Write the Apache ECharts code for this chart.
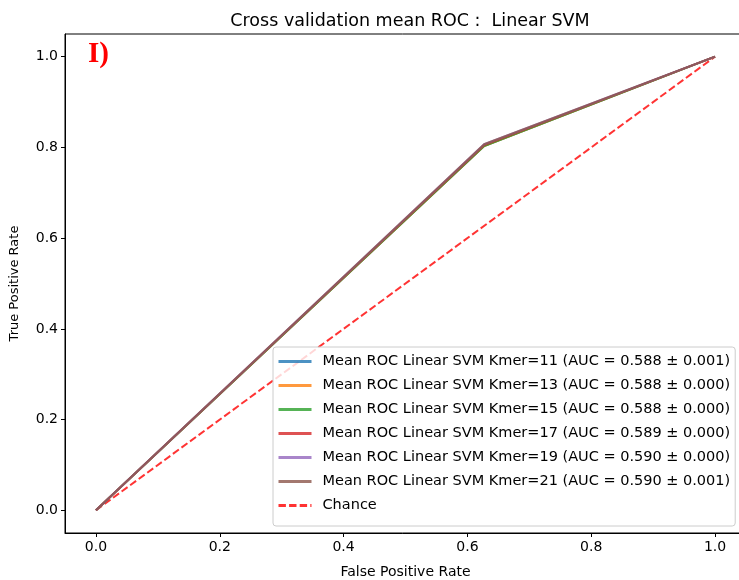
<!DOCTYPE html>
<html>
<head>
<meta charset="utf-8">
<script src="https://cdn.jsdelivr.net/npm/echarts@6/dist/echarts.min.js"></script>
<style>
  html, body {margin: 0; padding: 0; background: #fff;}
  #chart {width: 739px; height: 580px;}
</style>
</head>
<body>
<div id="chart"></div>
<script>
// ROC curve points [fpr, tpr]
var kmerNames = ['Mean ROC Linear SVM Kmer=11 (AUC = 0.588 \u00b1 0.001)',
                 'Mean ROC Linear SVM Kmer=13 (AUC = 0.588 \u00b1 0.000)',
                 'Mean ROC Linear SVM Kmer=15 (AUC = 0.588 \u00b1 0.000)',
                 'Mean ROC Linear SVM Kmer=17 (AUC = 0.589 \u00b1 0.000)',
                 'Mean ROC Linear SVM Kmer=19 (AUC = 0.590 \u00b1 0.000)',
                 'Mean ROC Linear SVM Kmer=21 (AUC = 0.590 \u00b1 0.001)'];
var roc11 = [[0, 0], [0.627, 0.803], [1, 1]];
var roc13 = [[0, 0], [0.627, 0.803], [1, 1]];
var roc15 = [[0, 0], [0.627, 0.803], [1, 1]];
var roc17 = [[0, 0], [0.627, 0.805], [1, 1]];
var roc19 = [[0, 0], [0.627, 0.807], [1, 1]];
var roc21 = [[0, 0], [0.627, 0.807], [1, 1]];
var chance = [[0, 0], [1, 1]];
var tickValues = [0, 0.2, 0.4, 0.6, 0.8, 1.0];

var colors = ['#1f77b4', '#ff7f0e', '#2ca02c', '#d62728', '#9467bd', '#8c564b'];
var rocData = [roc11, roc13, roc15, roc17, roc19, roc21];
var font = 'DejaVu Sans';

var series = [];
rocData.forEach(function (d, i) {
    series.push({
        name: kmerNames[i],
        type: 'line',
        data: d,
        symbol: 'none',
        silent: true,
        lineStyle: {color: colors[i], width: 2, opacity: 0.8},
        itemStyle: {color: colors[i]}
    });
});
series.push({
    name: 'Chance',
    type: 'line',
    data: chance,
    symbol: 'none',
    silent: true,
    lineStyle: {color: '#ff0000', width: 2, opacity: 0.8, type: [7.4, 3.2]},
    itemStyle: {color: '#ff0000'},
    z: 1
});

var myChart = echarts.init(document.getElementById('chart'));
var option = {
    animation: false,
    textStyle: {fontFamily: font},
    title: {
        text: 'Cross validation mean ROC :  Linear SVM',
        left: 405, top: 7, textAlign: 'center',
        textStyle: {fontFamily: font, fontSize: 17.5, fontWeight: 'normal', color: '#000'}
    },
    grid: {
        left: 65, top: 34, width: 681, height: 499,
        outerBoundsMode: 'none', containLabel: false,
        show: true, borderColor: '#000', borderWidth: 1
    },
    legend: {
        orient: 'vertical',
        left: 273, top: 347,
        itemWidth: 33, itemHeight: 14, itemGap: 9,
        padding: [7, 5, 13, 4],
        backgroundColor: 'rgba(255,255,255,0.8)',
        borderColor: '#cccccc', borderWidth: 1, borderRadius: 3,
        itemStyle: {opacity: 0},
        lineStyle: {width: 3},
        textStyle: {fontFamily: font, fontSize: 14.5, lineHeight: 14, color: '#000', padding: [0, 0, 0, 6]},
        data: kmerNames.concat(['Chance'])
    },
    xAxis: {
        type: 'value', min: -0.05, max: 1.05,
        name: 'False Positive Rate', nameLocation: 'middle', nameGap: 32,
        nameTextStyle: {fontFamily: font, fontSize: 14, color: '#000'},
        axisLine: {show: true, onZero: false, lineStyle: {color: '#000'}},
        axisTick: {show: true, inside: false, length: 4, customValues: tickValues, lineStyle: {color: '#000'}},
        axisLabel: {customValues: tickValues, fontSize: 14, color: '#000', margin: 7,
            formatter: function (v) { return v.toFixed(1); }},
        splitLine: {show: false}
    },
    yAxis: {
        type: 'value', min: -0.05, max: 1.05,
        name: 'True Positive Rate', nameLocation: 'middle', nameGap: 44, nameRotate: 90,
        nameTextStyle: {fontFamily: font, fontSize: 13, color: '#000'},
        axisLine: {show: true, onZero: false, lineStyle: {color: '#000'}},
        axisTick: {show: true, inside: false, length: 4, customValues: tickValues, lineStyle: {color: '#000'}},
        axisLabel: {customValues: tickValues, fontSize: 14, color: '#000', margin: 7,
            formatter: function (v) { return v.toFixed(1); }},
        splitLine: {show: false}
    },
    graphic: [{
        type: 'text',
        left: 88, top: 40,
        style: {text: 'I)', fill: '#ff0000', font: 'bold 29px "Liberation Serif", "DejaVu Serif", serif'}
    }],
    series: series
};
myChart.setOption(option);
</script>
</body>
</html>
